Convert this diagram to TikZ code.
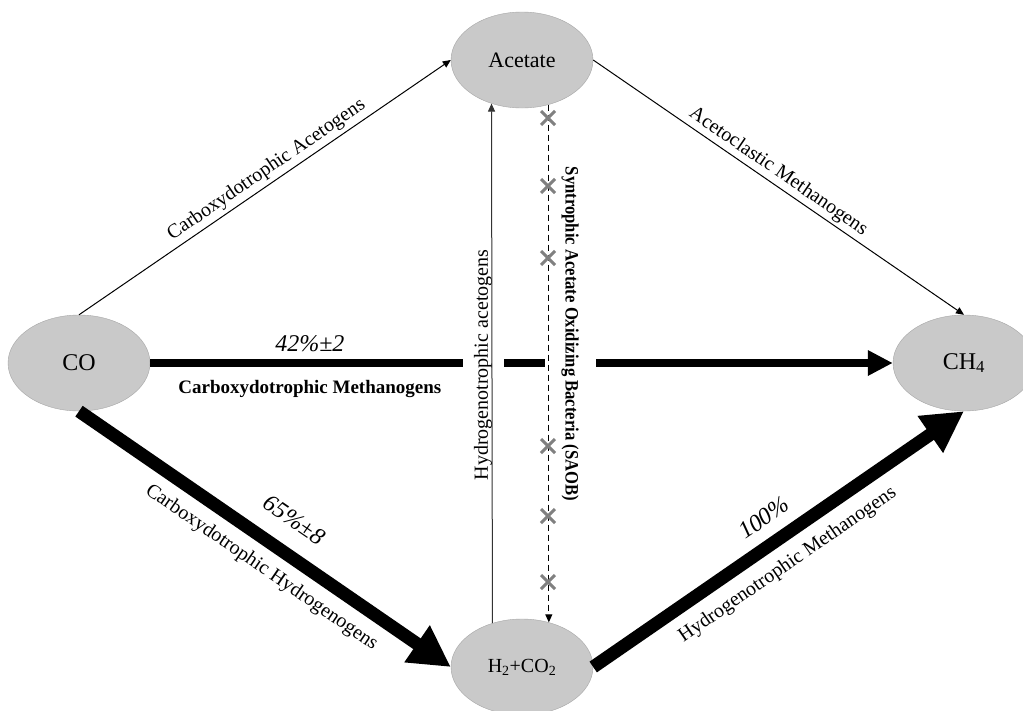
\documentclass[tikz,border=0pt]{standalone}
\usepackage{fontspec}
\setmainfont{Liberation Serif}
\newfontfamily\narrowbold[FakeStretch=0.88]{Liberation Serif Bold}
\usetikzlibrary{arrows.meta}
\usetikzlibrary{shapes.geometric}
\definecolor{poolgray}{RGB}{201,201,201}
\tikzset{pool/.style = {ellipse, draw=gray!70, fill=poolgray, minimum width=142pt,
                        minimum height=96pt, inner sep=0, font=\fontsize{22}{26}\selectfont}}
\tikzset{flowthin/.style = {line width=1pt, -{Triangle[length=8pt,width=7pt]}}}
\tikzset{flowmid/.style = {line width=8.5pt, -{Triangle[length=25pt,width=24pt]}}}
\tikzset{flowthick/.style = {line width=13pt, -{Triangle[length=41pt,width=42pt]}}}
\tikzset{lbl/.style = {font=\fontsize{20}{24}\selectfont, inner sep=2pt}}
\tikzset{lblbold/.style = {font=\fontsize{19}{23}\selectfont\bfseries, inner sep=2pt}}
\tikzset{pct/.style = {font=\fontsize{24}{28}\selectfont\itshape, inner sep=2pt}}
\tikzset{blockx/.pic = {\draw[gray, line width=3pt] (-7,-7) -- (7,7) (-7,7) -- (7,-7);}}

\begin{document}
\begin{tikzpicture}[x=1pt,y=-1pt]
      \useasboundingbox (0,0) rectangle (1023,710);
      \clip (0,0) rectangle (1023,710);

      \node[pool, font=\fontsize{24}{28}\selectfont] (co) at (79,363) {CO};
      \node[pool] (acetate) at (522,60) {Acetate};
      \node[pool, font=\fontsize{20}{24}\selectfont] (h2) at (522,667)
        {H\textsubscript{2}+CO\textsubscript{2}};
      \node[pool, font=\fontsize{24}{28}\selectfont] (ch4) at (964,363) {CH\textsubscript{4}};

      \draw[flowthin] (co.north) -- (acetate.west)
        node[lbl, sloped, pos=0.525, above=1.8pt] {Carboxydotrophic Acetogens};
      \draw[flowthin] (acetate.east) -- (ch4.north)
        node[lbl, sloped, pos=0.48, above=1pt] {Acetoclastic Methanogens};
      \draw[flowmid] (co.east) -- (ch4.west)
        node[pct, pos=0.215, above=4.5pt] {42\%±2}
        node[lblbold, pos=0.215, below=11pt] {Carboxydotrophic Methanogens};
      \draw[flowthick] (co.south) -- (h2.west)
        node[pct, sloped, pos=0.53, above=16pt] {65\%±8}
        node[lbl, sloped, pos=0.53, below=8pt] {Carboxydotrophic Hydrogenogens};
      \draw[flowthick] (h2.east) -- (ch4.south)
        node[pct, sloped, pos=0.5, above=9.5pt] {100\%}
        node[lbl, sloped, pos=0.484, below=9pt] {Hydrogenotrophic Methanogens};

      \node[lbl, rotate=90, fill=white, minimum height=41pt] (hacet) at (483,365)
        {Hydrogenotrophic acetogens};
      \node[lbl, font=\fontsize{18.9}{22}\narrowbold, rotate=-90, fill=white,
            minimum height=51pt] (saob) at (570,334)
        {Syntrophic Acetate Oxidizing Bacteria (SAOB)};

      \draw[flowthin, draw=black!80] (h2.124.6) -- (acetate.235.4);
      \draw[flowthin, dash pattern=on 6pt off 4pt] (acetate.-59.8) -- (h2.59.8);
      \foreach \y in {118,186,258,446,516,582}
        \pic at (548,\y) {blockx};
    \end{tikzpicture}
\end{document}
